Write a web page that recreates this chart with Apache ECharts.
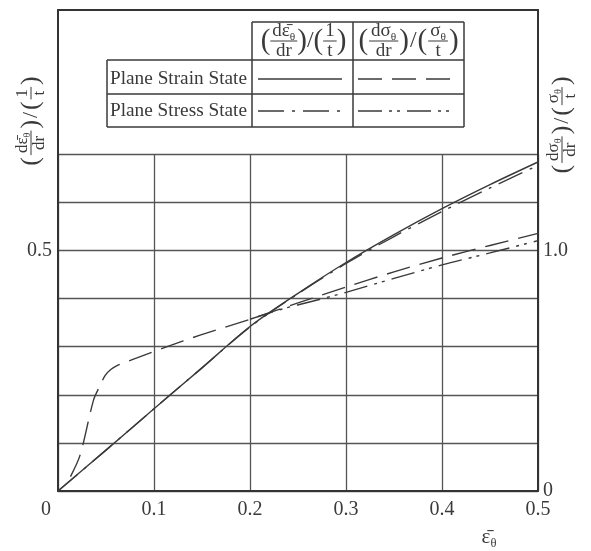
<!DOCTYPE html>
<html><head><meta charset="utf-8">
<script src="https://cdn.jsdelivr.net/npm/echarts@6/dist/echarts.min.js"></script>
<style>html,body{margin:0;padding:0;background:#fff}#c{width:591px;height:551px}</style>
</head><body><div id="c"></div><script>
// ---------- data ----------
const xTickLabels = ['0', '0.1', '0.2', '0.3', '0.4', '0.5'];
const leftTickLabels = {'0.5': '0.5'};
const rightTickLabels = {'0': '0', '1': '1.0'};

// d(eps)/dr / (1/t)  (left axis)
const epsE = [0, 0.05, 0.1, 0.15, 0.2, 0.25, 0.3, 0.35, 0.4, 0.45, 0.5];
const strainE = [0, 0.085, 0.171, 0.256, 0.342, 0.411, 0.475, 0.533, 0.587, 0.637, 0.684];
const stressE = [0, 0.085, 0.171, 0.256, 0.341, 0.410, 0.473, 0.529, 0.581, 0.630, 0.677];

// d(sigma)/dr / (sigma/t)  (right axis)
const epsSStrain = [0.013, 0.023, 0.037, 0.044, 0.049, 0.055, 0.062, 0.07, 0.078, 0.113, 0.148, 0.2, 0.25, 0.3, 0.35, 0.4, 0.45, 0.5];
const strainS = [0.06, 0.149, 0.378, 0.44, 0.48, 0.505, 0.522, 0.535, 0.547, 0.599, 0.648, 0.714, 0.782, 0.848, 0.911, 0.969, 1.021, 1.071];
const epsSStress = [0.2, 0.234, 0.265, 0.3, 0.35, 0.4, 0.45, 0.5];
const stressS = [0.714, 0.757, 0.789, 0.826, 0.884, 0.94, 0.99, 1.041];

const rowLabels = ['Plane Strain State', 'Plane Stress State'];

// ---------- styles ----------
const SERIF = '"Liberation Serif", "DejaVu Serif", serif';
const INK = '#3a3a3a';
const DASH = [24, 10];
const DASHDOT = [26, 8, 3, 8];
const DASHDOTDOT = [24, 7, 3, 5, 3, 7];

const cv = document.createElement('canvas').getContext('2d');
function tw(s, fs) { cv.font = fs + 'px ' + SERIF; return cv.measureText(s).width; }

function tx(s, x, y, size, align, extra) {
  return Object.assign({type: 'text', x: x, y: y, style: {text: s, fontSize: size, fontFamily: SERIF, fill: INK, align: align || 'left', verticalAlign: 'middle'}}, extra || {});
}

// math label built from tokens: {p:'('} paren, {s:'/'} slash, {n:[..], d:[..]} fraction, {r:[..]} inline run
function mathLabel(tokens, o) {
  const fs = o.fs, pfs = o.pfs || fs * 1.5, gap = o.gap == null ? 2 : o.gap;
  const kids = [];
  let x = 0;
  const sub = fs * 0.6;
  const pw = parts => parts.reduce((a, pr) => a + tw(pr[0], fs) + (pr[1] ? tw(pr[1], sub) : 0), 0);
  const place = (parts, x0, y) => {
    let px = x0;
    for (const pr of parts) {
      kids.push(tx(pr[0], px, y, fs));
      px += tw(pr[0], fs);
      if (pr[1]) { kids.push(tx(pr[1], px, y + fs * 0.3, sub)); px += tw(pr[1], sub); }
    }
  };
  for (const tk of tokens) {
    if (tk.p) { kids.push(tx(tk.p, x, 0, pfs)); x += tw(tk.p, pfs) + gap; }
    else if (tk.s) { const size = fs * 1.25; kids.push(tx(tk.s, x, 0, size)); x += tw(tk.s, size) + gap; }
    else if (tk.r) { const w = pw(tk.r); place(tk.r, x, 0); x += w + gap; }
    else {
      const wn = pw(tk.n), wd = pw(tk.d), w = Math.max(wn, wd) + 4;
      place(tk.n, x + (w - wn) / 2, -fs * 0.5);
      place(tk.d, x + (w - wd) / 2, fs * 0.52);
      kids.push({type: 'line', shape: {x1: x, y1: 0, x2: x + w, y2: 0}, style: {stroke: INK, lineWidth: 1}});
      x += w + gap;
    }
  }
  const half = (x - gap) / 2;
  kids.forEach(k => { if (k.type === 'line') { k.shape.x1 -= half; k.shape.x2 -= half; } else { k.x -= half; } });
  return {type: 'group', x: o.x, y: o.y, rotation: o.rot || 0, children: kids};
}

const epsTokens = [{p: '('}, {n: [['d'], ['ε̄', 'θ']], d: [['dr']]}, {p: ')'}, {s: '/'}, {p: '('}, {n: [['1']], d: [['t']]}, {p: ')'}];
const sigTokens = [{p: '('}, {n: [['d'], ['σ', 'θ']], d: [['dr']]}, {p: ')'}, {s: '/'}, {p: '('}, {n: [['σ', 'θ']], d: [['t']]}, {p: ')'}];

// ---------- legend table ----------
const graphics = [];
const T = {x0: 107, x1: 252, x2: 353, x3: 464, y0: 22, y1: 60, y2: 94, y3: 127};
const hl = (x1, y1, x2, y2) => ({type: 'line', shape: {x1, y1, x2, y2}, style: {stroke: INK, lineWidth: 1.5}});
graphics.push(hl(T.x1, T.y0, T.x3, T.y0), hl(T.x0, T.y1, T.x3, T.y1), hl(T.x0, T.y2, T.x3, T.y2), hl(T.x0, T.y3, T.x3, T.y3));
graphics.push(hl(T.x0, T.y1, T.x0, T.y3), hl(T.x1, T.y0, T.x1, T.y3), hl(T.x2, T.y0, T.x2, T.y3), hl(T.x3, T.y0, T.x3, T.y3));
graphics.push(mathLabel(epsTokens, {fs: 19, pfs: 29, gap: 0, x: (T.x1 + T.x2) / 2 + 1, y: 41}));
graphics.push(mathLabel(sigTokens, {fs: 19, pfs: 29, gap: 1, x: (T.x2 + T.x3) / 2, y: 41}));
const rowY = [79, 111];
rowLabels.forEach((s, i) => {
  const fs = 19;
  const sx = 137 / tw(s, fs);
  graphics.push(tx(s, 0, 0, fs, 'left', {x: T.x0 + 3, y: rowY[i], scaleX: sx}));
});
const sample = (x1, x2, y, dash) => ({type: 'line', shape: {x1, y1: y, x2, y2: y}, style: {stroke: INK, lineWidth: 1.4, lineDash: dash}});
graphics.push(sample(258, 342, rowY[0], null), sample(358, 456, rowY[0], DASH));
graphics.push(sample(258, 342, rowY[1], DASHDOT), sample(358, 456, rowY[1], DASHDOTDOT));

// axis names
graphics.push(mathLabel(epsTokens, {fs: 17, pfs: 26, gap: 2, x: 31, y: 121, rot: Math.PI / 2}));
graphics.push(mathLabel(sigTokens, {fs: 17, pfs: 26, gap: 2, x: 562, y: 125, rot: Math.PI / 2}));
graphics.push(mathLabel([{r: [['ε̄', 'θ']]}], {fs: 21, gap: 0, x: 489, y: 537}));

// ---------- chart ----------
const chart = echarts.init(document.getElementById('c'), null, {renderer: 'canvas'});
const labelFont = {fontFamily: SERIF, fontSize: 20, color: INK};
const frame = {show: true, onZero: false, lineStyle: {color: '#333', width: 2}};
const gridLine = {show: true, lineStyle: {color: '#555', width: 1.3}};
const Ht = 551 - 10 - 60;

chart.setOption({
  animation: false,
  backgroundColor: '#fff',
  grid: [
    {left: 58, right: 53, top: 10, bottom: 60},
    {left: 58, right: 53, bottom: 60, height: Ht * 0.7}
  ],
  xAxis: [
    {type: 'value', gridIndex: 0, min: 0, max: 0.5, interval: 0.1, axisLine: frame, axisTick: {show: false}, splitLine: {show: false},
      axisLabel: Object.assign({}, labelFont, {margin: 9,
        formatter: (v) => { const i = Math.round(v * 10); return i === 0 ? '{z|' + xTickLabels[0] + '}' : xTickLabels[i]; },
        rich: {z: {fontFamily: SERIF, fontSize: 20, color: INK, padding: [0, 24, 0, 0]}}})},
    {type: 'value', gridIndex: 0, position: 'top', min: 0, max: 0.5, interval: 0.1, axisLine: frame, axisTick: {show: false}, axisLabel: {show: false}, splitLine: {show: false}},
    {type: 'value', gridIndex: 1, min: 0, max: 0.5, interval: 0.1, axisLine: {show: false}, axisTick: {show: false}, axisLabel: {show: false}, splitLine: gridLine}
  ],
  yAxis: [
    {type: 'value', gridIndex: 0, position: 'left', min: 0, max: 1, interval: 0.1, axisLine: frame, axisTick: {show: false}, splitLine: {show: false},
      axisLabel: Object.assign({}, labelFont, {margin: 6, formatter: v => leftTickLabels[String(Math.round(v * 10) / 10)] || ''})},
    {type: 'value', gridIndex: 0, position: 'right', min: 0, max: 2, interval: 0.2, axisLine: frame, axisTick: {show: false}, splitLine: {show: false},
      axisLabel: Object.assign({}, labelFont, {margin: 5, formatter: v => rightTickLabels[String(Math.round(v * 10) / 10)] || ''})},
    {type: 'value', gridIndex: 1, min: 0, max: 0.7, interval: 0.1, axisLine: {show: false}, axisTick: {show: false}, axisLabel: {show: false}, splitLine: gridLine}
  ],
  series: [
    {name: 'Plane Strain dε/dr', type: 'line', xAxisIndex: 0, yAxisIndex: 0, showSymbol: false, smooth: 0.3, z: 4,
      lineStyle: {color: INK, width: 1.4, type: 'solid'}, data: epsE.map((e, i) => [e, strainE[i]])},
    {name: 'Plane Stress dε/dr', type: 'line', xAxisIndex: 0, yAxisIndex: 0, showSymbol: false, smooth: 0.3, z: 3,
      lineStyle: {color: INK, width: 1.4, type: DASHDOT}, data: epsE.map((e, i) => [e, stressE[i]])},
    {name: 'Plane Strain dσ/dr', type: 'line', xAxisIndex: 0, yAxisIndex: 1, showSymbol: false, smooth: 0.3, z: 4,
      lineStyle: {color: INK, width: 1.4, type: DASH}, data: epsSStrain.map((e, i) => [e, strainS[i]])},
    {name: 'Plane Stress dσ/dr', type: 'line', xAxisIndex: 0, yAxisIndex: 1, showSymbol: false, smooth: 0.3, z: 3,
      lineStyle: {color: INK, width: 1.4, type: DASHDOTDOT}, data: epsSStress.map((e, i) => [e, stressS[i]])}
  ],
  graphic: graphics
});
</script></body></html>
